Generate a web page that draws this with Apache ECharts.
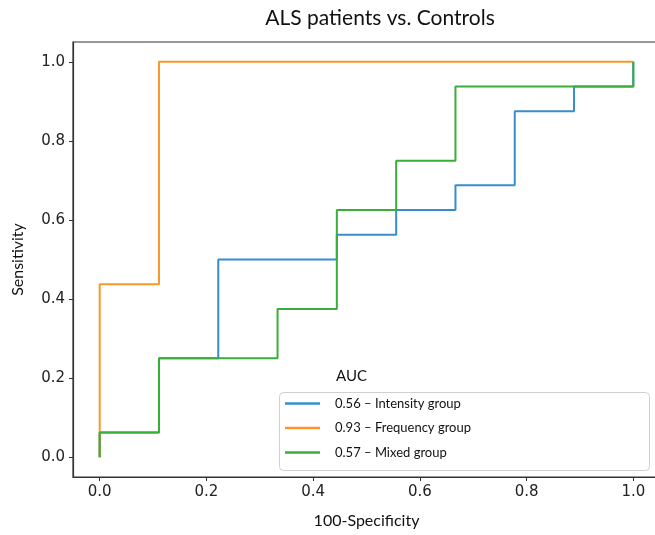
<!DOCTYPE html>
<html>
<head>
<meta charset="utf-8">
<script src="https://cdn.jsdelivr.net/npm/echarts@6/dist/echarts.min.js"></script>
<style>
html,body{margin:0;padding:0;background:#fff;}
#chart{width:655px;height:535px;}
</style>
</head>
<body>
<div id="chart"></div>
<script>
// ROC curve points (false positive rate = 100-Specificity, true positive rate = Sensitivity)
const seriesNames = ['0.56 \u2013 Intensity group', '0.93 \u2013 Frequency group', '0.57 \u2013 Mixed group'];
const fprIntensity = [0, 0, 0.1111, 0.1111, 0.2222, 0.2222, 0.4444, 0.4444, 0.5556, 0.5556, 0.6667, 0.6667, 0.7778, 0.7778, 0.8889, 0.8889, 1, 1];
const tprIntensity = [0, 0.0625, 0.0625, 0.25, 0.25, 0.5, 0.5, 0.5625, 0.5625, 0.625, 0.625, 0.6875, 0.6875, 0.875, 0.875, 0.9375, 0.9375, 1];
const fprFrequency = [0, 0, 0.1111, 0.1111, 1];
const tprFrequency = [0, 0.4375, 0.4375, 1, 1];
const fprMixed = [0, 0, 0.1111, 0.1111, 0.3333, 0.3333, 0.4444, 0.4444, 0.5556, 0.5556, 0.6667, 0.6667, 1, 1];
const tprMixed = [0, 0.0625, 0.0625, 0.25, 0.25, 0.375, 0.375, 0.625, 0.625, 0.75, 0.75, 0.9375, 0.9375, 1];
const tickValues = [0, 0.2, 0.4, 0.6, 0.8, 1.0];
const colors = ['#3a8dcc', '#f7982a', '#3aad3a'];

function pairs(xs, ys) { return xs.map((x, i) => [x, ys[i]]); }

const chart = echarts.init(document.getElementById('chart'), null, {renderer: 'canvas'});
const axisFont = 'DejaVu Sans';
const textFont = 'Lato, "Open Sans", sans-serif';

const option = {
  backgroundColor: '#fff',
  animation: false,
  title: [
    {text: 'ALS patients vs. Controls', left: 375, top: 3, textAlign: 'center',
     textStyle: {fontFamily: textFont, fontSize: 21, fontWeight: 'normal', color: '#111'}},
    {text: 'AUC', left: 331, top: 364,
     textStyle: {fontFamily: textFont, fontSize: 15, fontWeight: 'normal', color: '#111'}}
  ],
  grid: {left: 73, top: 42, width: 587, height: 435, show: true, borderColor: '#333', borderWidth: 1.2,
         backgroundColor: 'transparent', outerBoundsMode: 'none', containLabel: false},
  xAxis: {
    type: 'value', min: -0.05, max: 1.05,
    name: '100-Specificity', nameLocation: 'middle', nameGap: 36,
    nameTextStyle: {fontFamily: textFont, fontSize: 16, color: '#111'},
    axisLine: {show: true, onZero: false, lineStyle: {color: '#333', width: 1.2}},
    axisTick: {show: true, length: 4, lineStyle: {color: '#333'}, customValues: tickValues},
    axisLabel: {show: true, margin: 8, fontFamily: axisFont, fontSize: 15, color: '#222',
      customValues: tickValues, formatter: v => v.toFixed(1)},
    splitLine: {show: false}
  },
  yAxis: {
    type: 'value', min: -0.05, max: 1.05,
    name: 'Sensitivity', nameLocation: 'middle', nameGap: 47, nameRotate: 90,
    nameTextStyle: {fontFamily: textFont, fontSize: 16, color: '#111'},
    axisLine: {show: true, onZero: false, lineStyle: {color: '#333', width: 1.2}},
    axisTick: {show: true, length: 4, lineStyle: {color: '#333'}, customValues: tickValues},
    axisLabel: {show: true, margin: 8, fontFamily: axisFont, fontSize: 15, color: '#222',
      customValues: tickValues, formatter: v => v.toFixed(1)},
    splitLine: {show: false}
  },
  graphic: [
    {type: 'rect', left: 279, top: 392, shape: {width: 370, height: 78, r: 4},
     style: {fill: '#fff', stroke: '#d0d0d0', lineWidth: 1}, z: 5}
  ],
  legend: {
    orient: 'vertical', left: 285, top: 397, padding: 0, itemGap: 11.5,
    itemWidth: 35, itemHeight: 2.5, icon: 'rect', z: 10,
    textStyle: {fontFamily: textFont, fontSize: 13, color: '#111', padding: [0, 0, 0, 10]},
    data: seriesNames
  },
  series: [
    {name: seriesNames[0], type: 'line', data: pairs(fprIntensity, tprIntensity), symbol: 'none',
     lineStyle: {color: colors[0], width: 2}, itemStyle: {color: colors[0]}, z: 2},
    {name: seriesNames[1], type: 'line', data: pairs(fprFrequency, tprFrequency), symbol: 'none',
     lineStyle: {color: colors[1], width: 2}, itemStyle: {color: colors[1]}, z: 3},
    {name: seriesNames[2], type: 'line', data: pairs(fprMixed, tprMixed), symbol: 'none',
     lineStyle: {color: colors[2], width: 2}, itemStyle: {color: colors[2]}, z: 4}
  ]
};
chart.setOption(option);
</script>
</body>
</html>
